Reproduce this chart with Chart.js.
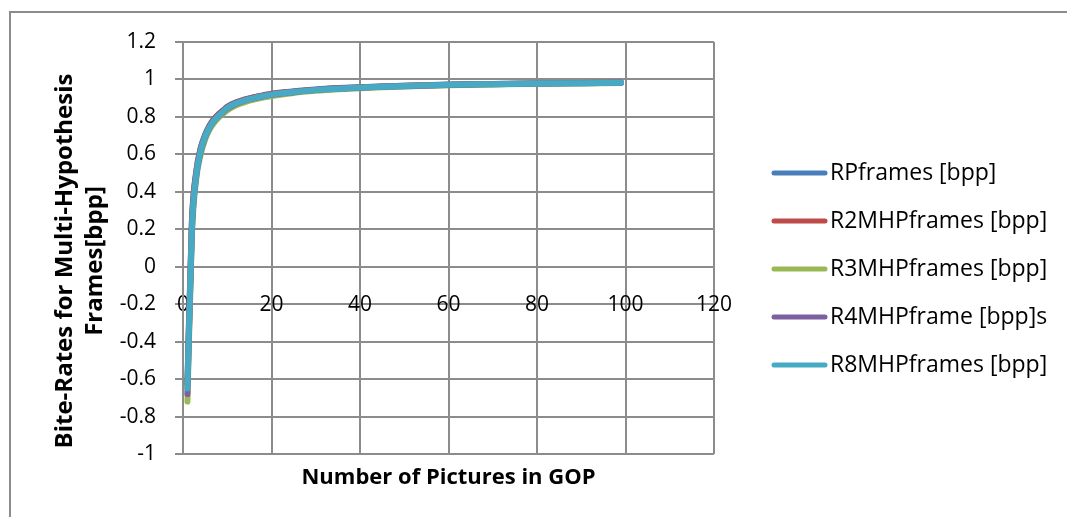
<!DOCTYPE html>
<html>
<head>
<meta charset="utf-8">
<script src="https://cdn.jsdelivr.net/npm/chart.js@4/dist/chart.umd.min.js"></script>
<style>
  html, body { margin: 0; padding: 0; background: #ffffff; }
  #wrap { width: 1067px; height: 517px; position: relative; }
</style>
</head>
<body>
<div id="wrap"><canvas id="c" width="1067" height="517"></canvas></div>
<script>
// Group-of-pictures sizes at which the bit-rates were sampled
const gopSizes = [1, 2, 3, 4, 5, 6, 7, 8, 9, 10, 12, 14, 16, 18, 20, 25, 30, 35, 40, 45, 50, 60, 70, 80, 90, 99];

// Bit-rates per frame type [bpp]
const rpFrames    = [-0.62, 0.24, 0.51, 0.635, 0.705, 0.755, 0.79, 0.814, 0.834, 0.855, 0.878, 0.894, 0.906, 0.915, 0.924, 0.937, 0.947, 0.954, 0.959, 0.963, 0.966, 0.973, 0.976, 0.979, 0.981, 0.983];
const r2mhpFrames = [-0.63, 0.23, 0.505, 0.63, 0.70, 0.752, 0.787, 0.811, 0.831, 0.852, 0.876, 0.892, 0.904, 0.913, 0.922, 0.935, 0.945, 0.953, 0.958, 0.962, 0.966, 0.972, 0.976, 0.979, 0.981, 0.983];
const r3mhpFrames = [-0.72, 0.16, 0.47, 0.60, 0.68, 0.732, 0.768, 0.795, 0.816, 0.836, 0.862, 0.879, 0.892, 0.903, 0.912, 0.928, 0.939, 0.947, 0.953, 0.958, 0.962, 0.969, 0.973, 0.977, 0.979, 0.981];
const r4mhpFrames = [-0.68, 0.19, 0.485, 0.615, 0.692, 0.744, 0.779, 0.804, 0.824, 0.846, 0.870, 0.887, 0.899, 0.909, 0.918, 0.932, 0.943, 0.950, 0.956, 0.961, 0.964, 0.971, 0.975, 0.978, 0.980, 0.982];
const r8mhpFrames = [-0.65, 0.20, 0.49, 0.62, 0.695, 0.745, 0.78, 0.805, 0.826, 0.848, 0.872, 0.888, 0.900, 0.910, 0.919, 0.933, 0.944, 0.951, 0.957, 0.961, 0.965, 0.972, 0.975, 0.978, 0.980, 0.982];

const seriesNames = ['RPframes [bpp]', 'R2MHPframes [bpp]', 'R3MHPframes [bpp]', 'R4MHPframe [bpp]s', 'R8MHPframes [bpp]'];
const seriesColors = ['#4A7EBB', '#BE4B48', '#98B954', '#7D60A0', '#46AAC5'];

// Axis ticks
const xTickValues = [0, 20, 40, 60, 80, 100, 120];
const yTickValues = [-1, -0.8, -0.6, -0.4, -0.2, 0, 0.2, 0.4, 0.6, 0.8, 1, 1.2];
const yTickLabels = ['-1', '-0.8', '-0.6', '-0.4', '-0.2', '0', '0.2', '0.4', '0.6', '0.8', '1', '1.2'];

const xTitle = 'Number of Pictures in GOP';
const yTitleLines = ['Bite-Rates for Multi-Hypothesis', 'Frames[bpp]'];

const FONT = '"Open Sans", Lato, sans-serif';
const GRID = '#8c8c8c';

const seriesValues = [rpFrames, r2mhpFrames, r3mhpFrames, r4mhpFrames, r8mhpFrames];
const datasets = seriesValues.map((vals, i) => ({
  label: seriesNames[i],
  data: gopSizes.map((g, k) => ({ x: g, y: vals[k] })),
  borderColor: seriesColors[i],
  backgroundColor: seriesColors[i],
  borderWidth: 6,
  borderCapStyle: 'round',
  borderJoinStyle: 'round',
  pointRadius: 0,
  cubicInterpolationMode: 'monotone',
  fill: false,
  order: seriesValues.length - i
}));

// Frame, axis titles and legend drawn around the plot
const decorations = {
  id: 'decorations',
  afterDraw(chart) {
    const ctx = chart.ctx;
    const area = chart.chartArea;
    ctx.save();
    // outer frame (top and left edges)
    ctx.strokeStyle = GRID;
    ctx.lineWidth = 2;
    ctx.beginPath();
    ctx.moveTo(10, 517);
    ctx.lineTo(10, 12);
    ctx.lineTo(1067, 12);
    ctx.stroke();

    // x axis title
    ctx.fillStyle = '#000';
    ctx.font = 'bold 22px ' + FONT;
    ctx.textAlign = 'center';
    ctx.textBaseline = 'middle';
    ctx.fillText(xTitle, (area.left + area.right) / 2, 478);

    // y axis title (two rotated lines)
    ctx.save();
    ctx.font = 'bold 24px ' + FONT;
    ctx.translate(80, 261);
    ctx.rotate(-Math.PI / 2);
    ctx.fillText(yTitleLines[0], 0, -15);
    ctx.fillText(yTitleLines[1], 0, 15);
    ctx.restore();

    // legend
    ctx.font = '23px ' + FONT;
    ctx.textAlign = 'left';
    ctx.lineWidth = 5;
    ctx.lineCap = 'round';
    seriesNames.forEach((name, i) => {
      const y = 173 + i * 48;
      ctx.strokeStyle = seriesColors[i];
      ctx.beginPath();
      ctx.moveTo(774, y);
      ctx.lineTo(825, y);
      ctx.stroke();
      ctx.fillStyle = '#000';
      ctx.fillText(name, 830, y);
    });
    ctx.restore();
  }
};

new Chart(document.getElementById('c'), {
  type: 'line',
  data: { datasets },
  options: {
    responsive: false,
    animation: false,
    events: [],
    layout: { padding: { left: 10, right: 353, top: 42, bottom: 63 } },
    plugins: {
      legend: { display: false },
      tooltip: { enabled: false },
      title: { display: false }
    },
    scales: {
      x: {
        type: 'linear',
        position: { y: 0 },
        min: 0,
        max: 120,
        afterBuildTicks: s => { s.ticks = xTickValues.map(v => ({ value: v })); },
        ticks: {
          autoSkip: false,
          maxRotation: 0,
          padding: 26,
          color: '#000',
          font: { family: FONT, size: 21 },
          callback: v => String(v)
        },
        grid: { color: GRID, lineWidth: 2, drawTicks: false },
        border: { color: GRID, width: 2 }
      },
      y: {
        type: 'linear',
        min: -1,
        max: 1.2,
        afterFit: s => { s.width = 173; },
        afterBuildTicks: s => { s.ticks = yTickValues.map(v => ({ value: v })); },
        ticks: {
          autoSkip: false,
          padding: 19,
          color: '#000',
          font: { family: FONT, size: 21 },
          callback: (v, i) => yTickLabels[i]
        },
        grid: { color: GRID, lineWidth: 2, tickLength: 8, tickColor: GRID },
        border: { color: GRID, width: 2 }
      }
    }
  },
  plugins: [decorations]
});
</script>
</body>
</html>
